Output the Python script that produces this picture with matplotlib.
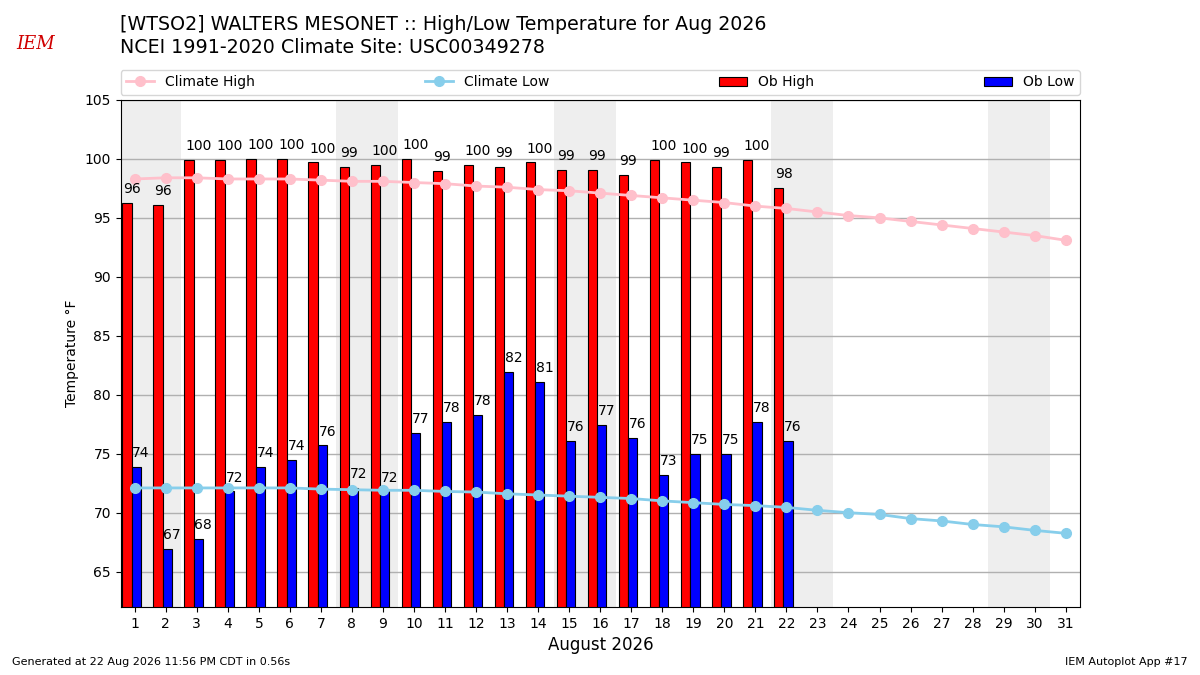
import matplotlib
matplotlib.use("Agg")
import matplotlib.pyplot as plt
import numpy as np

days = list(range(1, 32))
ob_high = [96.3, 96.1, 99.9, 99.9, 100.0, 100.0, 99.7, 99.3, 99.5, 100.0, 98.95,
           99.5, 99.3, 99.7, 99.1, 99.1, 98.6, 99.9, 99.7, 99.3, 99.9, 97.5]
ob_low = [73.9, 66.9, 67.8, 71.8, 73.9, 74.5, 75.7, 72.1, 71.8, 76.8, 77.7,
          78.3, 81.9, 81.1, 76.1, 77.4, 76.3, 73.2, 75.0, 75.0, 77.7, 76.1]
clim_high = [98.3, 98.4, 98.4, 98.3, 98.3, 98.3, 98.2, 98.1, 98.1, 98.0, 97.9,
             97.7, 97.6, 97.4, 97.3, 97.1, 96.9, 96.7, 96.5, 96.3, 96.0, 95.8,
             95.5, 95.2, 95.0, 94.7, 94.4, 94.1, 93.8, 93.5, 93.1]
clim_low = [72.1, 72.1, 72.1, 72.1, 72.1, 72.1, 72.0, 71.95, 71.9, 71.9, 71.8,
            71.75, 71.6, 71.5, 71.4, 71.3, 71.2, 71.0, 70.85, 70.7, 70.6, 70.45,
            70.2, 70.0, 69.85, 69.5, 69.3, 69.0, 68.8, 68.5, 68.25]
weekend_starts = [1, 8, 15, 22, 29]

fig = plt.figure(figsize=(12, 6.75), dpi=100)
ax = fig.add_axes([0.1006, 0.1007, 0.7994, 0.7512])

for d in weekend_starts:
    ax.axvspan(d - 0.5, d + 1.5, color="#EEEEEE", zorder=0, lw=0)

w = 0.3
obs_days = np.array(days[:len(ob_high)])
ax.bar(obs_days - 0.4, ob_high, width=w, align="edge", fc="r", ec="k", lw=0.8,
       label="Ob High", zorder=2)
ax.bar(obs_days - 0.1, ob_low, width=w, align="edge", fc="b", ec="k", lw=0.8,
       label="Ob Low", zorder=2)
for d, v in zip(obs_days, ob_high):
    ax.annotate(f"{v:.0f}", (d - 0.4, v), xytext=(0.5, 5),
                textcoords="offset points", ha="left", va="bottom", fontsize=10, zorder=4)
for d, v in zip(obs_days, ob_low):
    ax.annotate(f"{v:.0f}", (d - 0.1, v), xytext=(0.5, 5),
                textcoords="offset points", ha="left", va="bottom", fontsize=10, zorder=4)

ax.plot(days, clim_high, color="pink", marker="o", lw=2, ms=7,
        label="Climate High", zorder=3)
ax.plot(days, clim_low, color="skyblue", marker="o", lw=2, ms=7,
        label="Climate Low", zorder=3)

ax.set_xlim(0.55, 31.46)
ax.set_ylim(62, 105)
ax.set_xticks(days)
ax.set_yticks(range(65, 106, 5))
ax.tick_params(labelsize=10)
ax.yaxis.grid(True, color="#b0b0b0", lw=1)
ax.set_axisbelow(True)
ax.set_xlabel("August 2026", fontsize=12)
ax.set_ylabel("Temperature °F", fontsize=10)

h, l = ax.get_legend_handles_labels()
order = [l.index(n) for n in ["Climate High", "Climate Low", "Ob High", "Ob Low"]]
ax.legend([h[i] for i in order], [l[i] for i in order], ncol=4, mode="expand",
          loc="lower left", bbox_to_anchor=(0, 1.01, 1, 0.05), fontsize=10,
          borderaxespad=0)

fig.text(0.1, 0.963, "[WTSO2] WALTERS MESONET :: High/Low Temperature for Aug 2026",
         fontsize=13.7, va="center", ha="left")
fig.text(0.1, 0.929, "NCEI 1991-2020 Climate Site: USC00349278",
         fontsize=13.7, va="center", ha="left")
fig.text(0.01, 0.015, "Generated at 22 Aug 2026 11:56 PM CDT in 0.56s", fontsize=8)
fig.text(0.99, 0.015, "IEM Autoplot App #17", fontsize=8, ha="right")
fig.text(0.03, 0.935, "IEM", fontsize=13, color="#d00000", family="serif",
         style="italic", ha="center", va="center")

fig.savefig("out.png", dpi=100)
